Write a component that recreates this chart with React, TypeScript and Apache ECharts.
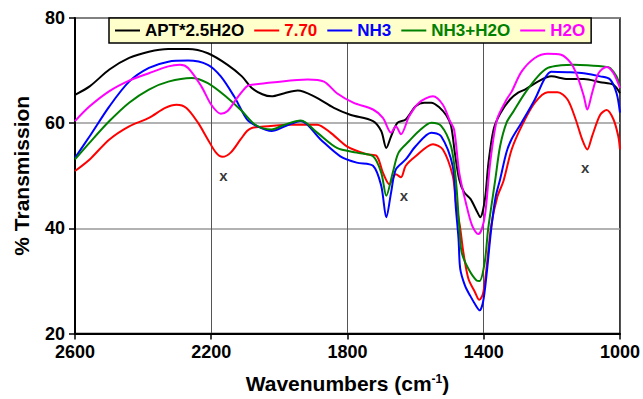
import React, { useEffect, useRef } from "react";
import * as echarts from "echarts";

const FONT = "'Liberation Sans', Arial, sans-serif";

const seriesNames = ["APT*2.5H2O", "7.70", "NH3", "NH3+H2O", "H2O"];
const seriesColors = ["#000000", "#FF0000", "#0000FF", "#008000", "#FF00FF"];

const xTicks = [2600, 2200, 1800, 1400, 1000];
const yTicks = [20, 40, 60, 80];

const aptData = [
  [2600, 65.4], [2557, 67.0], [2499, 70.2], [2441, 72.4], [2383, 73.6], [2326, 74.1], [2268, 74.1],
  [2210, 73.3], [2152, 71.1], [2110, 68.9], [2081, 66.7], [2050, 65.5], [2023, 65.1], [1985, 65.7],
  [1946, 66.2], [1898, 65.1], [1840, 62.9], [1792, 61.6], [1725, 60.4], [1701, 58.5], [1686, 55.3],
  [1672, 57.5], [1653, 60.1], [1629, 60.7], [1600, 63.2], [1575, 63.9], [1554, 63.9], [1530, 63.0],
  [1510, 61.5], [1496, 59.5], [1484, 54.0], [1472, 49.3], [1458, 46.9], [1439, 45.6], [1419, 43.1],
  [1410, 42.1], [1402, 43.5], [1395, 46.2], [1386, 52.5], [1371, 58.8], [1352, 61.8], [1323, 64.5],
  [1299, 65.8], [1279, 66.4], [1241, 67.9], [1202, 68.9], [1154, 68.4], [1106, 68.4], [1058, 67.8],
  [1019, 67.3], [1000, 65.7],
];

const ph770Data = [
  [2600, 50.9], [2557, 53.1], [2499, 56.9], [2441, 59.4], [2383, 61.0], [2335, 62.9], [2302, 63.5],
  [2273, 62.9], [2239, 60.1], [2210, 56.9], [2186, 54.4], [2167, 53.6], [2143, 54.4], [2114, 56.9],
  [2095, 58.5], [2081, 59.1], [2033, 59.4], [1966, 59.7], [1889, 59.7], [1850, 58.2], [1802, 55.6],
  [1744, 54.1], [1715, 53.8], [1696, 50.6], [1677, 48.4], [1658, 50.3], [1643, 49.7], [1629, 51.9],
  [1600, 53.7], [1549, 56.0], [1520, 55.0], [1491, 50.0], [1482, 45.0], [1469, 40.0], [1460, 35.5],
  [1445, 30.4], [1426, 27.9], [1413, 26.4], [1402, 27.6], [1392, 32.3], [1378, 40.5], [1360, 46.0],
  [1342, 49.0], [1318, 55.0], [1289, 59.4], [1250, 63.9], [1212, 65.9], [1183, 65.9], [1154, 64.5],
  [1130, 60.7], [1111, 56.9], [1096, 55.0], [1082, 57.5], [1058, 61.6], [1039, 62.5], [1019, 60.7],
  [1005, 57.5], [1000, 55.0],
];

const nh3Data = [
  [2600, 53.4], [2557, 57.5], [2499, 63.2], [2441, 67.9], [2383, 70.5], [2326, 71.7], [2268, 71.9],
  [2210, 71.1], [2172, 68.9], [2133, 65.1], [2095, 60.7], [2071, 59.6], [2023, 58.5], [1980, 59.5],
  [1937, 60.4], [1879, 56.9], [1821, 53.7], [1773, 52.5], [1725, 51.9], [1701, 48.1], [1686, 42.1],
  [1672, 46.8], [1658, 51.2], [1629, 53.1], [1600, 55.6], [1554, 58.2], [1525, 57.5], [1491, 51.8],
  [1482, 44.0], [1474, 38.0], [1469, 32.3], [1455, 29.1], [1440, 27.2], [1421, 25.1], [1412, 24.4],
  [1402, 26.0], [1392, 31.0], [1378, 39.9], [1365, 46.0], [1352, 49.3], [1333, 54.5], [1318, 57.0],
  [1289, 60.1], [1250, 64.5], [1221, 68.5], [1202, 69.8], [1154, 69.7], [1106, 69.5], [1058, 68.9],
  [1029, 68.3], [1010, 65.7], [1000, 62.0],
];

const nh3h2oData = [
  [2600, 53.1], [2557, 56.3], [2499, 60.4], [2441, 63.9], [2383, 66.4], [2326, 67.9], [2258, 68.6],
  [2210, 67.6], [2152, 64.8], [2110, 62.3], [2071, 59.7], [2023, 58.8], [1985, 59.7], [1937, 60.5],
  [1889, 58.2], [1831, 55.3], [1773, 54.4], [1725, 53.7], [1701, 50.6], [1686, 46.2], [1667, 50.6],
  [1650, 54.4], [1619, 56.6], [1590, 58.5], [1554, 60.1], [1525, 59.5], [1496, 55.6], [1482, 49.3],
  [1472, 40.5], [1465, 35.5], [1445, 32.3], [1421, 30.1], [1412, 30.0], [1397, 33.6], [1387, 39.9],
  [1366, 49.3], [1352, 55.6], [1333, 60.1], [1313, 62.2], [1279, 65.7], [1241, 68.9], [1212, 70.5],
  [1173, 71.0], [1135, 71.1], [1096, 71.0], [1039, 70.7], [1029, 70.5], [1010, 68.9], [1000, 67.0],
];

const h2oData = [
  [2600, 60.4], [2557, 63.2], [2499, 66.1], [2441, 68.1], [2383, 69.5], [2326, 70.8], [2292, 71.1],
  [2268, 70.5], [2229, 67.0], [2200, 63.5], [2172, 61.8], [2152, 62.3], [2124, 64.8], [2095, 67.0],
  [2081, 67.3], [2014, 67.8], [1917, 68.3], [1869, 67.9], [1831, 65.7], [1783, 63.9], [1725, 62.6],
  [1696, 61.0], [1672, 58.2], [1658, 59.4], [1643, 57.9], [1619, 61.3], [1590, 63.9], [1549, 65.1],
  [1520, 63.5], [1500, 60.5], [1487, 58.8], [1472, 50.6], [1453, 45.0], [1434, 40.5], [1416, 38.9],
  [1405, 40.0], [1395, 43.1], [1381, 52.5], [1361, 60.7], [1333, 64.5], [1318, 66.0], [1289, 69.8],
  [1250, 72.4], [1212, 73.2], [1173, 73.0], [1144, 71.4], [1125, 68.9], [1106, 65.1], [1096, 62.6],
  [1082, 65.7], [1063, 69.5], [1039, 70.7], [1019, 69.5], [1000, 66.7],
];

const annotX = [2164, 1634, 1102];
const annotY = [50, 46.2, 51.5];
const annotText = ["x", "x", "x"];

const allData = [aptData, ph770Data, nh3Data, nh3h2oData, h2oData];

export default function App() {
  const ref = useRef<HTMLDivElement>(null);
  useEffect(() => {
    if (!ref.current) return;
    const chart = echarts.init(ref.current, null, { renderer: "svg" });
    const lineSeries = seriesNames.map((name, i) => ({
      name,
      type: "line",
      data: allData[i],
      smooth: 0.3,
      symbol: "none",
      showSymbol: false,
      lineStyle: { color: seriesColors[i], width: 2 },
      itemStyle: { color: seriesColors[i] },
      z: 3,
    }));
    chart.setOption({
      animation: false,
      backgroundColor: "#ffffff",
      textStyle: { fontFamily: FONT },
      grid: {
        left: 75,
        right: 14,
        top: 18,
        bottom: 64,
        show: true,
        borderColor: "#000",
        borderWidth: 1.5,
        backgroundColor: "transparent",
      },
      legend: {
        data: seriesNames.map((n, i) => ({ name: n, textStyle: { color: seriesColors[i] } })),
        left: 109,
        top: 18,
        backgroundColor: "#FFFFCC",
        borderColor: "#000",
        borderWidth: 1.5,
        padding: [4, 6, 4, 6],
        itemGap: 10,
        itemWidth: 25,
        itemHeight: 2,
        icon: "rect",
        textStyle: { fontFamily: FONT, fontWeight: "bold", fontSize: 17 },
        selectedMode: false,
      },
      xAxis: {
        type: "value",
        min: 1000,
        max: 2600,
        interval: 400,
        inverse: true,
        name: "Wavenumbers (cm{sup|-1})",
        nameLocation: "middle",
        nameGap: 39,
        nameTextStyle: {
          fontFamily: FONT,
          fontWeight: "bold",
          fontSize: 21,
          color: "#000",
          rich: {
            sup: { fontFamily: FONT, fontWeight: "bold", fontSize: 12, color: "#000", padding: [0, 0, 10, 0] },
          },
        },
        axisLine: { show: true, lineStyle: { color: "#000", width: 2 } },
        axisTick: { show: true, inside: false, length: 6, lineStyle: { color: "#000", width: 1.5 } },
        axisLabel: {
          fontFamily: FONT,
          fontWeight: "bold",
          fontSize: 18,
          color: "#000",
          margin: 9,
          formatter: (v: number) => (xTicks.includes(v) ? String(v) : ""),
        },
        splitLine: { show: true, lineStyle: { color: "#555", width: 1 } },
      },
      yAxis: {
        type: "value",
        min: 20,
        max: 80,
        interval: 20,
        name: "% Transmission",
        nameLocation: "middle",
        nameGap: 43,
        nameTextStyle: { fontFamily: FONT, fontWeight: "bold", fontSize: 21, color: "#000" },
        axisLine: { show: true, lineStyle: { color: "#000", width: 2 } },
        axisTick: { show: true, inside: false, length: 6, lineStyle: { color: "#000", width: 1.5 } },
        axisLabel: {
          fontFamily: FONT,
          fontWeight: "bold",
          fontSize: 18,
          color: "#000",
          margin: 10,
          formatter: (v: number) => (yTicks.includes(v) ? String(v) : ""),
        },
        splitLine: { show: true, lineStyle: { color: "#999", width: 1.5 } },
      },
      series: [
        ...lineSeries,
        {
          name: "annotations",
          type: "scatter",
          data: annotX.map((x, i) => [x, annotY[i]]),
          symbolSize: 1,
          itemStyle: { color: "rgba(0,0,0,0)" },
          label: {
            show: true,
            position: "inside",
            formatter: (p: any) => annotText[p.dataIndex],
            fontFamily: FONT,
            fontWeight: "bold",
            fontSize: 15,
            color: "#000",
          },
          z: 4,
        },
      ],
    });
    return () => chart.dispose();
  }, []);
  return (
    <div
      ref={ref}
      style={{ position: "fixed", left: 0, top: 0, width: 643, height: 399, background: "#fff" }}
    />
  );
}
